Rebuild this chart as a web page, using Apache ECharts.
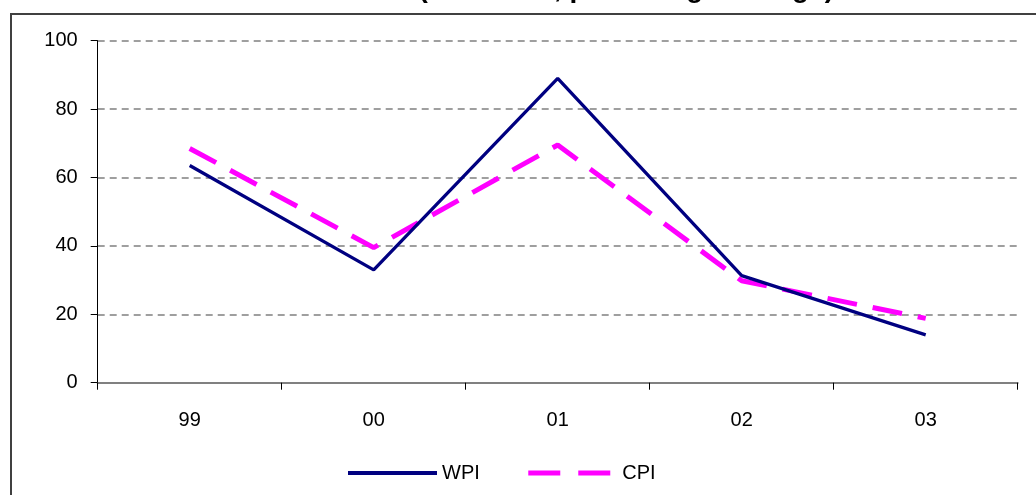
<!DOCTYPE html>
<html>
<head>
<meta charset="utf-8">
<script src="https://cdn.jsdelivr.net/npm/echarts@6/dist/echarts.min.js"></script>
<style>html,body{margin:0;padding:0;background:#fff;}#c{width:1036px;height:495px;}</style>
</head>
<body>
<div id="c"></div>
<script>
var titleText = 'Inflation Rate (12-month, percentage change)';
var categories = ['99', '00', '01', '02', '03'];
var wpi = [63.5, 33, 89, 31.3, 14];
var cpi = [68.5, 39.5, 69.5, 29.8, 18.8];
var yTicks = [0, 20, 40, 60, 80, 100];

var chart = echarts.init(document.getElementById('c'), null, {renderer: 'canvas'});
var font = '"Liberation Sans", Arial, sans-serif';
chart.setOption({
  animation: false,
  backgroundColor: '#fff',
  graphic: [{
    type: 'rect', z: -1, silent: true,
    shape: {x: 11, y: 14, width: 1040, height: 500},
    style: {fill: 'none', stroke: '#404040', lineWidth: 2}
  }, {
    type: 'text', silent: true,
    style: {
      text: titleText, x: 834, y: 3, align: 'right', verticalAlign: 'bottom',
      font: 'bold 28px "Liberation Sans", Arial, sans-serif', fill: '#000'
    }
  }],
  grid: {left: 97.7, right: 18.3, top: 40.7, bottom: 112.3, containLabel: false},
  legend: {
    left: 341, top: 458,
    itemWidth: 89, itemHeight: 18, itemGap: 46,
    itemStyle: {color: 'rgba(0,0,0,0)', borderWidth: 0},
    textStyle: {fontFamily: font, fontSize: 20, color: '#000'},
    data: [
      {name: 'WPI', lineStyle: {color: '#000080', width: 4, type: 'solid'}},
      {name: 'CPI', lineStyle: {color: '#FF00FF', width: 5, type: [32, 18], cap: 'butt'}}
    ]
  },
  xAxis: {
    type: 'category',
    data: categories,
    boundaryGap: true,
    axisLine: {show: true, lineStyle: {color: '#808080', width: 2}},
    axisTick: {show: true, length: 7, inside: false, lineStyle: {color: '#000', width: 1}},
    axisLabel: {fontFamily: font, fontSize: 20, color: '#000', margin: 28},
    splitLine: {show: false}
  },
  yAxis: {
    type: 'value',
    min: 0, max: 100, interval: 20,
    axisLine: {show: true, lineStyle: {color: '#000', width: 1}},
    axisTick: {show: true, length: 7, lineStyle: {color: '#000'}},
    axisLabel: {
      fontFamily: font, fontSize: 20, color: '#000', margin: 20,
      formatter: function (v) { return yTicks.indexOf(v) >= 0 ? String(v) : ''; }
    },
    splitLine: {show: true, lineStyle: {color: '#808080', type: [7, 5], width: 1.5}}
  },
  series: [{
    name: 'WPI', type: 'line', data: wpi,
    symbol: 'none',
    lineStyle: {color: '#000080', width: 3.3},
    itemStyle: {color: '#000080'},
    z: 3
  }, {
    name: 'CPI', type: 'line', data: cpi,
    symbol: 'none',
    lineStyle: {color: '#FF00FF', width: 5, type: [30, 16], cap: 'butt'},
    itemStyle: {color: '#FF00FF'},
    z: 2
  }]
});
</script>
</body>
</html>
